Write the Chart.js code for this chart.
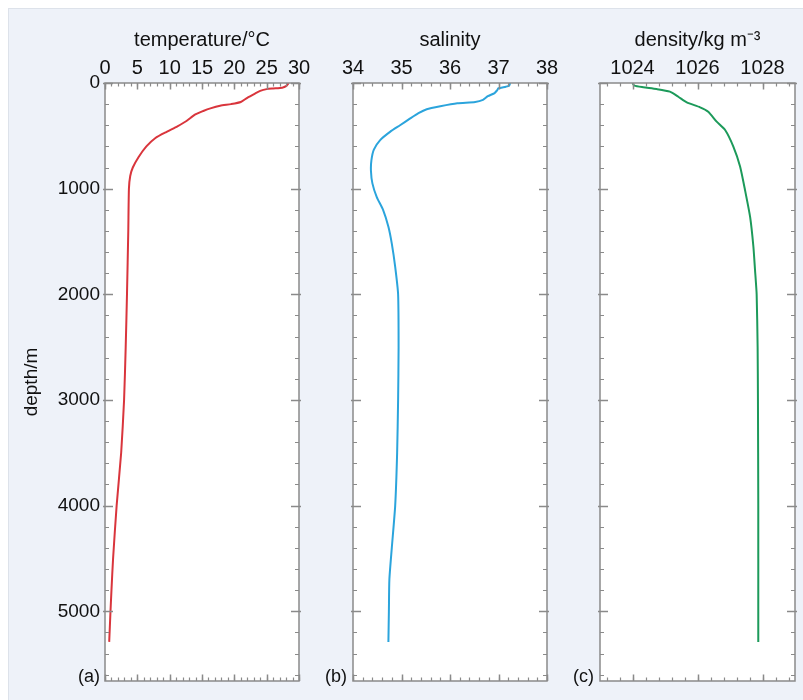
<!DOCTYPE html>
<html><head><meta charset="utf-8">
<script src="https://cdn.jsdelivr.net/npm/chart.js@4.4.0/dist/chart.umd.min.js"></script>
<style>
html,body{margin:0;padding:0;background:#fff;}
#wrap{position:relative;width:803px;height:700px;overflow:hidden;}
#bg{position:absolute;left:8px;top:8px;right:0;bottom:0;background:#eef2f9;border-left:1px solid #dde2ea;border-top:1px solid #dde2ea;}
canvas{position:absolute;left:0;top:0;}
.lab{position:absolute;width:40px;text-align:right;font:18px "Liberation Sans",Arial,sans-serif;color:#111;line-height:20px;top:666px;}
</style></head>
<body><div id="wrap"><div id="bg"></div>
<canvas id="ca" width="803" height="700"></canvas>
<canvas id="cb" width="803" height="700"></canvas>
<canvas id="cc" width="803" height="700"></canvas>
<div class="lab" style="left:60px">(a)</div>
<div class="lab" style="left:307px">(b)</div>
<div class="lab" style="left:554px">(c)</div>
</div>
<script>
// ---- data ----
const tempDepth = [0,30,45,52,58,75,100,140,180,200,215,240,265,300,360,410,460,520,600,700,800,880,1000,1400,2000,2500,3000,3500,4000,4500,4800,5000,5290];
const tempValues = [28.4,28.0,27.4,26.0,25.0,24.0,23.2,22.0,21.0,19.5,17.8,16.3,15.2,13.9,12.6,11.2,9.6,7.8,6.4,5.2,4.3,3.9,3.7,3.6,3.4,3.2,2.95,2.5,1.8,1.25,1.0,0.85,0.65];

const salDepth = [0,25,35,50,70,95,125,160,180,192,220,248,285,335,400,460,540,630,730,830,950,1080,1200,1360,1520,1740,2000,2500,3000,3500,4000,4400,4700,5000,5290];
const salValues = [37.24,37.22,37.15,37.0,36.97,36.92,36.78,36.68,36.52,36.15,35.80,35.52,35.35,35.18,34.97,34.77,34.56,34.43,34.38,34.37,34.40,34.49,34.62,34.73,34.80,34.87,34.93,34.94,34.93,34.91,34.87,34.80,34.75,34.74,34.73];

const densDepth = [0,25,40,57,82,130,183,230,272,366,445,600,790,1010,1270,1550,1770,2000,2500,3000,4000,5000,5290];
const densValues = [1024.0,1024.06,1024.33,1024.74,1025.15,1025.41,1025.67,1026.08,1026.33,1026.59,1026.85,1027.10,1027.31,1027.46,1027.62,1027.72,1027.77,1027.82,1027.85,1027.86,1027.87,1027.87,1027.87];

const tempTicks = [0,5,10,15,20,25,30];
const salTicks = [34,35,36,37,38];
const densTicks = [1024,1026,1028];
const depthTicks = [0,1000,2000,3000,4000,5000];

const titles = ['temperature/°C','salinity','density/kg m\u207B\u00B3'];
const depthTitle = 'depth/m';

// ---- rendering ----
Chart.defaults.font.family = '"Liberation Sans", Arial, sans-serif';
Chart.defaults.color = '#111';

const AXIS = '#8a8a8a';
const DEPTH_MAX = 5660;

function framePlugin(xMinorStep, xMinorBase){
  return {
    id:'frame',
    beforeDraw(chart){
      const a = chart.chartArea, c = chart.ctx;
      c.save(); c.fillStyle = '#fff';
      c.fillRect(a.left, a.top, a.right-a.left, a.bottom-a.top);
      c.restore();
    },
    afterDatasetsDraw(chart){
      const a = chart.chartArea, c = chart.ctx;
      const xs = chart.scales.x, ys = chart.scales.y;
      c.save();
      c.strokeStyle = AXIS; c.lineWidth = 1.5;
      c.strokeRect(a.left, a.top, a.right-a.left, a.bottom-a.top);
      c.lineWidth = 1.2;
      c.beginPath();
      const start = xMinorBase - Math.floor((xMinorBase - xs.min)/xMinorStep + 1e-9)*xMinorStep;
      for (let v = start; v <= xs.max + 1e-9; v += xMinorStep){
        const px = Math.round(xs.getPixelForValue(v)) + 0.5;
        c.moveTo(px, a.top); c.lineTo(px, a.top+3.5);
        c.moveTo(px, a.bottom); c.lineTo(px, a.bottom-3.5);
      }
      for (let d = 0; d <= DEPTH_MAX; d += 200){
        const py = Math.round(ys.getPixelForValue(d)) + 0.5;
        c.moveTo(a.left, py); c.lineTo(a.left+4, py);
        c.moveTo(a.right, py); c.lineTo(a.right-4, py);
      }
      c.stroke();
      c.lineWidth = 1.5;
      c.beginPath();
      xs.ticks.forEach(t=>{
        const px = Math.round(xs.getPixelForValue(t.value)) + 0.5;
        c.moveTo(px, a.top); c.lineTo(px, a.top+6.5);
        c.moveTo(px, a.bottom); c.lineTo(px, a.bottom-6.5);
      });
      depthTicks.forEach(d=>{
        const py = Math.round(ys.getPixelForValue(d)) + 0.5;
        c.moveTo(a.left-2, py); c.lineTo(a.left+8, py);
        c.moveTo(a.right+2, py); c.lineTo(a.right-8, py);
      });
      c.stroke();
      c.restore();
    }
  };
}

function makeChart(id, depths, values, color, xmin, xmax, xTicks, minorStep, title, pad, showY){
  const pts = depths.map((d,i)=>({x: values[i], y: d}));
  return new Chart(document.getElementById(id), {
    type:'scatter',
    data:{datasets:[{data:pts, showLine:true, borderColor:color, borderWidth:2, pointRadius:0, tension:0.2, fill:false}]},
    options:{
      responsive:false, animation:false, devicePixelRatio:1,
      layout:{padding:pad},
      plugins:{legend:{display:false}, tooltip:{enabled:false}},
      scales:{
        x:{type:'linear', position:'top', min:xmin, max:xmax,
           afterBuildTicks(s){ s.ticks = xTicks.map(v=>({value:v})); },
           afterFit(s){ s.height = 83; },
           grid:{display:false, drawTicks:false}, border:{display:false},
           ticks:{padding:3, font:{size:20}, color:'#111', maxRotation:0, autoSkip:false, callback:v=>String(v)},
           title:{display:true, text:title, font:{size:20}, color:'#111', padding:{top:28,bottom:0}}
        },
        y:{type:'linear', reverse:true, min:0, max:DEPTH_MAX, display:showY,
           afterBuildTicks(s){ s.ticks = depthTicks.map(v=>({value:v})); },
           afterFit(s){ if (showY) s.width = 105; },
           grid:{display:false, drawTicks:false}, border:{display:false},
           ticks:{padding:5, font:{size:19}, color:'#111', autoSkip:false, callback:v=>String(v)},
           title:{display:true, text:depthTitle, font:{size:19}, color:'#111', padding:{top:20,bottom:0}}
        }
      }
    },
    plugins:[framePlugin(minorStep, xTicks[0])]
  });
}

makeChart('ca', tempDepth, tempValues, '#d9353c', 0, 30, tempTicks, 1, titles[0], {left:0, top:0, right:504, bottom:19}, true);
makeChart('cb', salDepth, salValues, '#2ba4dc', 34, 38, salTicks, 0.2, titles[1], {left:353, top:0, right:256, bottom:19}, false);
makeChart('cc', densDepth, densValues, '#1c9a5a', 1023, 1029, densTicks, 0.4, titles[2], {left:600, top:0, right:8, bottom:19}, false);
</script>
</body></html>
